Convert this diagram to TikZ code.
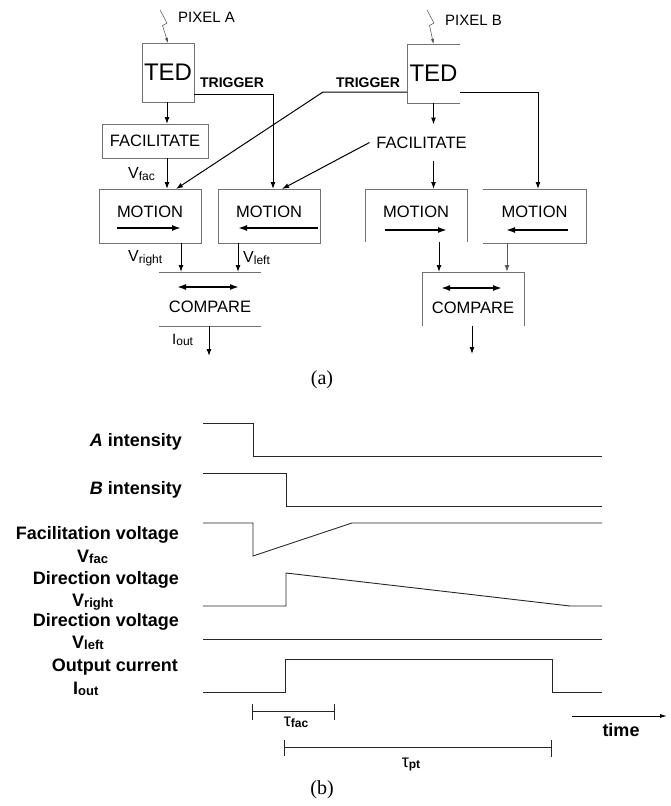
\documentclass[tikz,border=0pt]{standalone}
\usepackage{fontspec}
\setmainfont{Liberation Sans}
\newfontfamily\serifcap{Liberation Serif}
\usetikzlibrary{arrows.meta,calc}
\definecolor{boxgray}{gray}{0.45}
\begin{document}
\begin{tikzpicture}[x=1pt,y=-1pt,
  fs/.style={font=\fontsize{#1}{#1}\selectfont},
  bfs/.style={font=\bfseries\fontsize{#1}{#1}\selectfont},
  tbox/.style={draw=boxgray,line width=0.8pt,inner sep=0pt,outer sep=0pt},
  nobox/.style={inner sep=0pt,outer sep=0pt},
  boxline/.style={draw=boxgray,line width=0.8pt},
  arr/.style={-{Latex[length=7pt,width=5pt]},line width=1pt},
  inarr/.style={-{Latex[length=9pt,width=6pt]},line width=1.6pt},
  dblarr/.style={{Latex[length=9pt,width=6pt]}-{Latex[length=9pt,width=6pt]},line width=1.6pt},
  bolt/.style={-{Latex[length=5pt,width=3pt]},line width=0.5pt,black!70},
  sig/.style={line width=0.9pt,black!85},
  lbl/.style={bfs=18,anchor=east,inner sep=0pt},
  sublbl/.style={anchor=west,inner sep=0pt}
]
\useasboundingbox (0,0) rectangle (670,806);

% ---------------- (a) ----------------
\coordinate (boltA0) at (160,10);
\coordinate (boltB0) at (427,10);
\node[fs=15,anchor=west,inner sep=0pt] (pixA) at (178,17) {PIXEL A};
\node[fs=15,anchor=west,inner sep=0pt] (pixB) at (445,20) {PIXEL B};

% TED boxes
\node[tbox,minimum width=52pt,minimum height=59pt,fs=24] (tedA) at (168,72.5) {TED};
\node[nobox,minimum width=53pt,minimum height=59pt,fs=24] (tedB) at (433.5,73.5) {TED};
\draw[boxline] (tedB.north east) -- (tedB.north west) -- (tedB.south west) -- (tedB.south east);

\draw[bolt] (boltA0) -- (167,23) -- (162.5,25.5) -- (tedA.north);
\draw[bolt] (boltB0) -- (434,23) -- (429.5,25.5) -- (tedB.north);

% FACILITATE
\node[tbox,minimum width=106pt,minimum height=34pt,fs=16.5] (facA) at (155,141) {FACILITATE};
\node[nobox,minimum width=104pt,minimum height=36pt,fs=16.5] (facB) at (421.5,142.5) {FACILITATE};

% MOTION boxes
\node[tbox,minimum width=102pt,minimum height=54pt] (mA1) at (150,216) {};
\node[tbox,minimum width=102pt,minimum height=54pt] (mA2) at (269,216) {};
\node[nobox,minimum width=102pt,minimum height=53pt] (mB1) at (416,215.5) {};
\node[nobox,minimum width=103pt,minimum height=54pt] (mB2) at (534.5,216) {};
\draw[boxline] (mB1.south west) -- (mB1.north west) -- (mB1.north east) -- (mB1.south east);
\draw[boxline] (mB2.north west) -- (mB2.north east) -- (mB2.south east) -- (mB2.south west);

\foreach \m in {mA1,mA2,mB1,mB2}{
  \node[fs=16.5,inner sep=0pt] (t\m) at ($(\m.center)+(0,-4)$) {MOTION};
}
\draw[inarr] ($(mA1.center)+(-33,12)$) -- ($(mA1.center)+(31,12)$);
\draw[inarr] ($(mA2.center)+(49,12)$) -- ($(mA2.center)+(-31,12)$);
\draw[inarr] ($(mB1.center)+(-31,14.5)$) -- ($(mB1.center)+(31,14.5)$);
\draw[inarr] ($(mB2.center)+(33.5,14)$) -- ($(mB2.center)+(-28.5,14)$);

% COMPARE
\node[nobox,minimum width=102pt,minimum height=54pt] (cmpA) at (210,299) {};
\node[nobox,minimum width=102pt,minimum height=54pt] (cmpB) at (473,299) {};
\draw[boxline] (cmpA.north west) -- (cmpA.north east);
\draw[boxline] (cmpA.south west) -- (cmpA.south east);
\draw[boxline] (cmpB.south west) -- (cmpB.north west) -- (cmpB.north east) -- (cmpB.south east);
\node[fs=16.5,inner sep=0pt] (tcA) at ($(cmpA.center)+(0,8)$) {COMPARE};
\node[fs=16.5,inner sep=0pt] (tcB) at ($(cmpB.center)+(0,9)$) {COMPARE};
\draw[dblarr] ($(cmpA.center)+(-33,-12)$) -- ($(cmpA.center)+(29,-12)$);
\draw[dblarr] ($(cmpB.center)+(-32,-11)$) -- ($(cmpB.center)+(29,-11)$);

% connectors pixel A side
\draw[arr] (tedA.south -| 167,0) -- (facA.north -| 167,0);
\draw[arr] (facA.south -| 167,0) -- (mA1.north -| 167,0);
\coordinate (trA) at ($(tedA.south east)+(0,-8)$);
\draw[arr] (trA) -| ($(mA2.north)+(4,0)$);
\node[bfs=14,inner sep=0pt] (trigA) at (232,83) {TRIGGER};

% connectors pixel B side
\coordinate (trB) at ($(tedB.south west)+(0,-11)$);
\coordinate (bendB) at (323,92);
\draw[arr] (trB) -- (bendB) -- ($(mA1.north)+(26,0)$);
\node[bfs=14,inner sep=0pt] (trigB) at (368,83) {TRIGGER};
\draw[arr] (facB.west) -- ($(mA2.north)+(13,0)$);
\draw[arr] (tedB.south) -- (tedB.south |- facB.north);
\draw[arr] (tedB.south |- facB.south) -- (tedB.south |- mB1.north);
\coordinate (rtB) at ($(tedB.south east)+(0,-11)$);
\draw[arr] (rtB) -| ($(mB2.north)+(3.5,0)$);

% outputs
\coordinate (oA1) at ($(mA1.south)+(31,0)$);
\coordinate (oA2) at ($(mA2.south)+(-31,0)$);
\draw[arr] (oA1) -- (oA1 |- cmpA.north);
\draw[arr] (oA2) -- (oA2 |- cmpA.north);
\coordinate (oB1) at ($(mB1.south)+(23,0)$);
\coordinate (oB2) at ($(mB2.south)+(-27.5,0)$);
\draw[arr] (oB1) -- (oB1 |- cmpB.north);
\draw[arr,black!65] (oB2) -- (oB2 |- cmpB.north);
\coordinate (endA) at (209,356);
\coordinate (endB) at (472,354);
\draw[arr] (cmpA.south -| endA) -- (endA);
\draw[arr] (cmpB.south -| endB) -- (endB);

% labels (a)
\node[sublbl] (vfacA) at (128,174) {\fontsize{16}{16}\selectfont V\raisebox{-1.5pt}{\fontsize{12}{12}\selectfont fac}};
\node[sublbl] (vrA) at (128,258) {\fontsize{16}{16}\selectfont V\raisebox{-1.5pt}{\fontsize{12}{12}\selectfont right}};
\node[sublbl] (vlA) at (243,258) {\fontsize{16}{16}\selectfont V\raisebox{-1.5pt}{\fontsize{12}{12}\selectfont left}};
\node[sublbl] (ioA) at (172,340) {\fontsize{15}{15}\selectfont I\raisebox{-1pt}{\fontsize{12}{12}\selectfont out}};

\node[font=\serifcap\fontsize{20}{20}\selectfont,inner sep=0pt] (capa) at (322,380) {(a)};

% ---------------- (b) ----------------
\node[lbl] (lA) at (182,442) {\itshape A\upshape\ intensity};
\node[lbl] (lB) at (182,490) {\itshape B\upshape\ intensity};
\node[lbl] (lF) at (179,535) {Facilitation voltage};
\node[sublbl] (lFv) at (77,557) {\bfseries\fontsize{18}{18}\selectfont V\raisebox{-1.5pt}{\fontsize{13}{13}\selectfont fac}};
\node[lbl] (lD1) at (179,580) {Direction voltage};
\node[sublbl] (lD1v) at (72,602) {\bfseries\fontsize{18}{18}\selectfont V\raisebox{-1.5pt}{\fontsize{13}{13}\selectfont right}};
\node[lbl] (lD2) at (179,622) {Direction voltage};
\node[sublbl] (lD2v) at (72,643) {\bfseries\fontsize{18}{18}\selectfont V\raisebox{-1.5pt}{\fontsize{13}{13}\selectfont left}};
\node[lbl] (lO) at (178,667) {Output current};
\node[sublbl] (lOv) at (73,689) {\bfseries\fontsize{18}{18}\selectfont I\raisebox{-1.5pt}{\fontsize{13}{13}\selectfont out}};

% signals
\draw[sig] (203,423) -- (253,423) -- (253,456) -- (602,456);
\draw[sig] (203,473) -- (286,473) -- (286,506) -- (602,506);
\draw[sig] (203,523) -- (253,523) -- (253,556) -- (352,523) -- (602,523);
\draw[sig] (203,606) -- (286,606) -- (286,573) -- (570,606) -- (602,606);
\draw[sig] (203,639) -- (602,639);
\draw[sig] (203,692) -- (285,692) -- (285,659) -- (552,659) -- (552,692) -- (602,692);

% intervals
\draw[sig] (252,711) -- (334,711);
\draw[sig] (252,704) -- (252,720);
\draw[sig] (334,704) -- (334,720);
\node[inner sep=0pt] (tfac) at (296,722) {\fontsize{18}{18}\selectfont τ\raisebox{-1pt}{\bfseries\fontsize{12}{12}\selectfont fac}};
\draw[sig] (284,747) -- (551,747);
\draw[sig] (284,740) -- (284,756);
\draw[sig] (551,740) -- (551,757);
\node[inner sep=0pt] (tpt) at (411,764) {\fontsize{18}{18}\selectfont τ\raisebox{-1pt}{\bfseries\fontsize{12}{12}\selectfont pt}};

% time axis
\coordinate (t0) at (572,716);
\coordinate (t1) at (667,716);
\draw[-{Latex[length=7pt,width=4pt]},line width=0.9pt] (t0) -- (t1);
\node[bfs=18,inner sep=0pt] (timel) at (621,730) {time};

\node[font=\serifcap\fontsize{20}{20}\selectfont,inner sep=0pt] (capb) at (322,790) {(b)};
\end{tikzpicture}
\end{document}
